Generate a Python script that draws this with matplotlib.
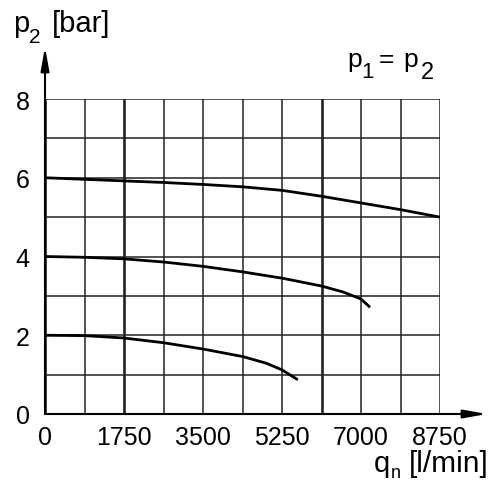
import matplotlib
matplotlib.use("Agg")
import matplotlib.pyplot as plt
import numpy as np

plt.rcParams['font.family'] = ['Liberation Sans', 'DejaVu Sans']

# flow values (l/min) and outlet pressure (bar)
q_top = [0, 875, 1750, 2625, 3500, 4375, 5250, 6125, 7000, 7875, 8750]
p_top = [6.0, 5.96, 5.92, 5.88, 5.83, 5.77, 5.68, 5.53, 5.36, 5.19, 5.0]

q_mid = [0, 875, 1750, 2625, 3500, 4375, 5250, 6125, 6600, 7000, 7200]
p_mid = [4.0, 3.98, 3.94, 3.86, 3.75, 3.61, 3.45, 3.25, 3.10, 2.92, 2.71]

q_low = [0, 875, 1750, 2625, 3500, 4375, 4900, 5250, 5600]
p_low = [2.0, 1.99, 1.93, 1.81, 1.65, 1.46, 1.29, 1.12, 0.87]

x_ticks = [0, 1750, 3500, 5250, 7000, 8750]
y_ticks = [0, 2, 4, 6, 8]
thick_x = [0, 1750, 6125]

W, H = 494, 489
fig = plt.figure(figsize=(W / 100, H / 100), dpi=100)
ax = fig.add_axes([45 / W, (H - 415) / H, 395 / W, 315 / H])
ax.set_xlim(0, 8750)
ax.set_ylim(0, 8)

# grid
for x in np.arange(0, 8751, 875):
    lw = 1.9 if x in thick_x else 1.1
    ax.axvline(x, color='#222222', lw=lw, zorder=1)
for y in range(0, 9):
    ax.axhline(y, color='#222222', lw=1.1, zorder=1)

for q, p in [(q_top, p_top), (q_mid, p_mid), (q_low, p_low)]:
    ax.plot(q, p, color='black', lw=2.0, zorder=3, solid_capstyle='butt')

for s in ax.spines.values():
    s.set_visible(False)
ax.set_xticks(x_ticks)
ax.set_yticks(y_ticks)
ax.tick_params(length=0, labelsize=18, pad=8)
ax.tick_params(axis='y', pad=11)

# axis arrows
arrow = dict(arrowstyle='-|>,head_length=1.4,head_width=0.25',
             color='black', lw=1.5, shrinkA=0, shrinkB=0)
ax.annotate('', xy=(487 / W, (H - 415) / H), xytext=(45 / W, (H - 415) / H),
            xycoords='figure fraction', arrowprops=arrow)
ax.annotate('', xy=(45 / W, (H - 48) / H), xytext=(45 / W, (H - 415) / H),
            xycoords='figure fraction', arrowprops=arrow)


def put(s, x, y, size):
    # x, y in pixels from top-left, y is the baseline
    fig.text(x / W, (H - y) / H, s, fontsize=size, ha='left', va='baseline')


# p2 [bar]
put('p', 13, 32, 21)
put('2', 29, 43, 15)
put('[bar]', 52, 32, 21)

# p1 = p2
put('p', 347, 67, 19)
put('1', 361, 78, 16)
put('=', 379, 67, 19)
put('p', 403, 67, 19)
put('2', 421, 79, 17)

# qn [l/min]
put('q', 374, 472, 21)
put('n', 391, 478, 13)
put('[l/min]', 409, 472, 21.5)

fig.savefig('out.png', dpi=100, facecolor='white')
